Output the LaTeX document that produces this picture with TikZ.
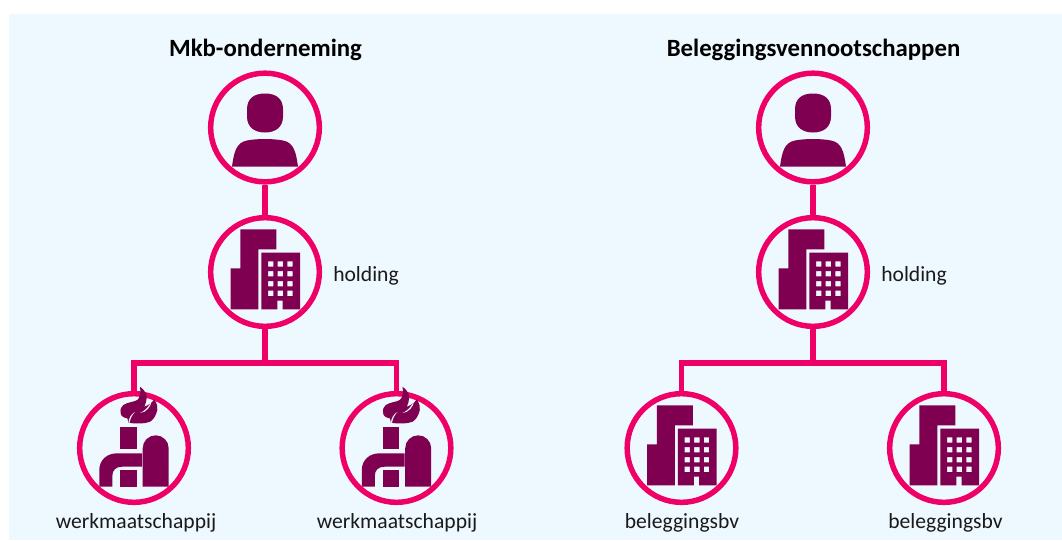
\documentclass[tikz,border=0pt]{standalone}
\usepackage{fontspec}
\setmainfont{Carlito}
\definecolor{panelblue}{HTML}{EDF8FF}
\definecolor{linepink}{HTML}{EE0066}
\definecolor{iconpurple}{HTML}{7F0050}
\definecolor{textblack}{HTML}{1A1A1A}
\tikzset{
  disc/.style = {circle, draw = linepink, line width = 4.1pt, minimum size = 81.5pt, inner sep = 0pt},
  link/.style = {draw = linepink, line width = 4.1pt},
  icon/.style = {fill = iconpurple, even odd rule},
  caption/.style = {text = textblack, font = \fontsize{16.2}{18}\selectfont, inner sep = 0pt},
  title/.style = {text = black, font = \fontsize{18.6}{20}\selectfont\bfseries, inner sep = 0pt},
  person/.pic = {
    \fill[icon] (-18,-18) .. controls (-18,-29) and (-11,-34) .. (0,-34)
      .. controls (11,-34) and (18,-29) .. (18,-18) -- (18,-11)
      .. controls (18,0) and (10,5) .. (0,5) .. controls (-10,5) and (-18,0) .. (-18,-11) -- cycle;
    \fill[icon] (-33,39) .. controls (-31,25) and (-29,15) .. (-18,13)
      .. controls (-8,11) and (8,11) .. (18,13) .. controls (29,15) and (31,25) .. (33,39) -- cycle;
  },
  building/.pic = {
    \fill[icon] (-34.3,37.3) -- (-34.3,-3.7) -- (-24.7,-3.7) -- (-24.7,-42.7) -- (11.3,-42.7)
      -- (11.3,-22.7) -- (-6.7,-22.7) -- (-6.7,37.3) -- cycle;
    \fill[icon] (-3.7,37.3) -- (-3.7,-19.3) -- (35,-19.3) -- (35,37.3) -- (17.7,37.3)
      -- (17.7,28.7) -- (12.3,28.7) -- (12.3,37.3) -- cycle
      \foreach \col in {5.7, 15.3, 25} {
        \foreach \row in {-8, 1.7, 11.7, 21.3} {
          (\col-2.7,\row-2.7) rectangle (\col+2.7,\row+2.7)
        }
      };
  },
  factory/.pic = {
    % flame
    \fill[icon] (6,-61.3) .. controls (11,-58) and (13,-53) .. (12.7,-50)
      .. controls (12.5,-47) and (11.5,-44) .. (10.3,-41.3)
      .. controls (13,-42) and (18,-45) .. (20.3,-48.7)
      .. controls (23,-44) and (24,-41) .. (23.3,-38)
      .. controls (22,-32) and (19,-28) .. (16,-26.3)
      .. controls (10,-24) and (4,-24.5) .. (-0.7,-24.7) -- (-5.7,-25.3)
      .. controls (-6,-27) and (-6,-28.5) .. (-6.7,-29.7)
      .. controls (-10,-30) and (-13.3,-32) .. (-13.3,-34.7)
      .. controls (-14,-39) and (-13,-41) .. (-10.7,-43)
      .. controls (-6,-46) and (0,-46) .. (3.3,-48)
      .. controls (6,-50) and (7,-56) .. (6,-61.3) -- cycle;
    \fill[panelblue] (-5.7,-25.3) .. controls (-5,-30) and (-3,-34) .. (1,-36)
      .. controls (-2,-33) and (-3.5,-30) .. (-4.5,-25.2) -- cycle;
    \fill[panelblue] (17.7,-47.5) .. controls (15.5,-42) and (11,-37) .. (6,-35)
      .. controls (12,-35.5) and (17,-41) .. (17.7,-47.5) -- cycle;
    % chimney, tank, pipe and block
    \fill[icon] (-13.7,-20.7) rectangle (2.7,1.3);
    \fill[icon] (8.7,38.7) -- (8.7,0.3) arc[start angle = 180, end angle = 360, radius = 13]
      -- (34.7,38.7) -- cycle;
    \fill[icon] (-34.7,38.7) -- (-34.7,22) .. controls (-34.7,12) and (-27,5.3) .. (-17,5.3)
      -- (8,5.3) -- (8,18.7) -- (-12,18.7) .. controls (-18,18.7) and (-21.7,22) .. (-21.7,28)
      -- (-21.7,38.7) -- cycle;
    \fill[icon] (-13.7,22) rectangle (2.7,38.7);
  }
}
\begin{document}
\begin{tikzpicture}[x = 0.75pt, y = -0.75pt]
  \useasboundingbox (0,0) rectangle (1062,540);

  % Panel behind the two groups

  \fill[panelblue] (9,14) rectangle (1062,540);

  % Left group

  \node[title] (mkb) at (265.5,49.5) {Mkb-onderneming};
  \node[disc] (owner) at (265,127.5) {};
  \node[disc] (holding) at (265,272) {};
  \node[disc] (workA) at (134,448) {};
  \node[disc] (workB) at (396.5,448) {};
  \coordinate (split) at (265,363);

  % Right group

  \node[title] (bel) at (813.5,49.5) {Beleggingsvennootschappen};
  \node[disc] (investor) at (813,127.5) {};
  \node[disc] (holdingR) at (813,272) {};
  \node[disc] (bvA) at (681.5,448) {};
  \node[disc] (bvB) at (944,448) {};
  \coordinate (splitR) at (813,363);

  % Connectors

  \draw[link] (owner) -- (holding);
  \draw[link] (holding) -- (split);
  \draw[link] (workA) |- (split);
  \draw[link] (workB) |- (split);
  \draw[link] (investor) -- (holdingR);
  \draw[link] (holdingR) -- (splitR);
  \draw[link] (bvA) |- (splitR);
  \draw[link] (bvB) |- (splitR);

  % Icons go on top of the circles

  \pic at (owner) {person};
  \pic at (investor) {person};
  \pic at (holding) {building};
  \pic at (holdingR) {building};
  \pic at (bvA) {building};
  \pic at (bvB) {building};
  \pic at (workA) {factory};
  \pic at (workB) {factory};

  % Labels

  \node[caption, anchor = base west] (holdingT) at (333,281) {holding};
  \node[caption, anchor = base west] (holdingRT) at (881,281) {holding};
  \node[caption, anchor = base] (workAT) at (136,528) {werkmaatschappij};
  \node[caption, anchor = base] (workBT) at (397,528) {werkmaatschappij};
  \node[caption, anchor = base] (bvAT) at (682,528) {beleggingsbv};
  \node[caption, anchor = base] (bvBT) at (945.5,528) {beleggingsbv};

\end{tikzpicture}
\end{document}
